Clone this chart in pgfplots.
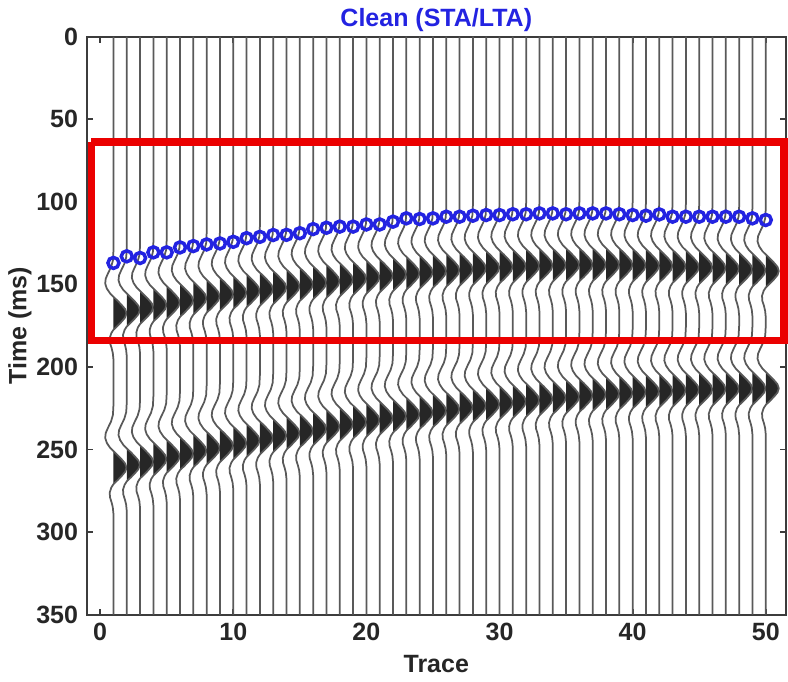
\documentclass[border=0pt]{standalone}
\usepackage{pgfplots}
\pgfplotsset{compat=1.18}
\usepackage{pgfplotstable}
\usepackage{fontspec}
\setmainfont{Liberation Sans}
\definecolor{pickblue}{RGB}{35,35,225}
\definecolor{boxred}{RGB}{235,0,0}
\definecolor{axgray}{RGB}{60,60,60}

% trace n, STA/LTA pick, peak of event 1, peak of event 2 (ms)
\pgfplotstableread{
n pick pk1 pk2
1 137 167.5 261.0
2 133 165.5 259.3
3 134 164 257.5
4 130.6 162.5 255.8
5 130.6 161 254.1
6 127.6 159.7 252.5
7 126.8 158.4 250.8
8 125.8 157.2 249.2
9 125.2 156 247.6
10 124.2 155 246.1
11 122 153.9 244.5
12 121.2 152.9 243.0
13 120.1 151.9 241.6
14 120 151 240.1
15 119 150 238.7
16 116.5 149 237.4
17 115.7 148.1 236.0
18 115 147.2 234.7
19 115 146.4 233.4
20 113.7 145.6 232.2
21 113.7 144.8 231.0
22 112 144 229.8
23 110 143.3 228.7
24 110.4 142.6 227.6
25 110 142 226.5
26 109 141.4 225.5
27 109 140.8 224.5
28 108.4 140.3 223.5
29 108 139.8 222.6
30 108 139.4 221.7
31 107.5 139 220.9
32 107.5 138.7 220.1
33 107 138.5 219.3
34 107 138.3 218.6
35 107.5 138.2 218.0
36 107 138.1 217.3
37 107 138.1 216.7
38 107 138.1 216.2
39 107.5 138.2 215.7
40 108 138.4 215.2
41 108.4 138.6 214.8
42 107.6 138.8 214.4
43 109 139.1 214.1
44 109 139.4 213.8
45 109 139.7 213.6
46 109 140.1 213.4
47 109 140.5 213.2
48 109 140.9 213.1
49 110 141.4 213.0
50 111 141.9 213.0
}\picks

% one trace: dt (ms, absolute when w1=w2=0, else relative to event peak), a (trace units)
\pgfplotstableread{
dt a w1 w2
0 0 0 0
-38 0 1 0
-32 -0.04 1 0
-28 -0.18 1 0
-24 -0.42 1 0
-21 -0.58 1 0
-18 -0.62 1 0
-15 -0.5 1 0
-12 -0.25 1 0
-10 0 1 0
-7.5 0.32 1 0
-5 0.62 1 0
-2.5 0.88 1 0
0 0.98 1 0
2.5 0.88 1 0
5 0.62 1 0
7.5 0.32 1 0
10 0 1 0
12 -0.16 1 0
15 -0.28 1 0
18 -0.26 1 0
21 -0.14 1 0
24 -0.05 1 0
28 0 1 0
-38 0 0 1
-32 -0.04 0 1
-28 -0.18 0 1
-24 -0.42 0 1
-21 -0.58 0 1
-18 -0.62 0 1
-15 -0.5 0 1
-12 -0.25 0 1
-10 0 0 1
-7.5 0.32 0 1
-5 0.62 0 1
-2.5 0.88 0 1
0 0.98 0 1
2.5 0.88 0 1
5 0.62 0 1
7.5 0.32 0 1
10 0 0 1
12 -0.16 0 1
15 -0.28 0 1
18 -0.26 0 1
21 -0.14 0 1
24 -0.05 0 1
28 0 0 1
350 0 0 0
}\wig

% positive lobe, filled black
\pgfplotstableread{
dt a
-10 0
-7.5 0.32
-5 0.62
-2.5 0.88
0 0.98
2.5 0.88
5 0.62
7.5 0.32
10 0
}\lobe

\begin{document}
\begin{tikzpicture}
\begin{axis}[
  scale only axis,
  width=279.6pt, height=231.2pt,
  xmin=-1, xmax=51.5,
  ymin=0, ymax=350,
  y dir=reverse,
  xtick={0,10,...,50},
  ytick={0,50,...,350},
  tick align=inside,
  major tick length=2.4pt,
  axis line style={axgray, line width=0.8pt},
  tick style={axgray, line width=0.7pt},
  /pgf/number format/assume math mode=true,
  tick label style={font=\bfseries, text=black!85},
  label style={font=\bfseries, text=black!85},
  xlabel={Trace},
  ylabel={Time (ms)},
  xlabel style={yshift=1.2pt},
  ylabel style={yshift=-5pt},
  title={Clean (STA/LTA)},
  title style={font=\bfseries, text=pickblue, yshift=-7.5pt},
  clip=false,
  trace/.style={black!65, line width=0.7pt, no markers, line join=round},
  lobe/.style={fill=black!85, draw=none, no markers},
]
\pgfplotsinvokeforeach{0,...,49}{
  \pgfplotstablegetelem{#1}{pk1}\of\picks \let\pA\pgfplotsretval
  \pgfplotstablegetelem{#1}{pk2}\of\picks \let\pB\pgfplotsretval
  \addplot[lobe] table[x expr=#1+1+\thisrow{a}, y expr=\thisrow{dt}+\pA]{\lobe};
  \addplot[lobe] table[x expr=#1+1+\thisrow{a}, y expr=\thisrow{dt}+\pB]{\lobe};
  \addplot[trace] table[x expr=#1+1+\thisrow{a},
    y expr=\thisrow{dt}+\thisrow{w1}*\pA+\thisrow{w2}*\pB]{\wig};
}
\addplot[only marks, mark=o, mark size=2.2pt, pickblue, line width=1.4pt]
  table[x=n, y=pick]{\picks};
\addplot[boxred, line width=3pt, line join=miter, no markers]
  coordinates {(-0.66,63.9) (51.37,63.9) (51.37,184.1) (-0.66,184.1) (-0.66,63.9)};
\end{axis}
\end{tikzpicture}
\end{document}
